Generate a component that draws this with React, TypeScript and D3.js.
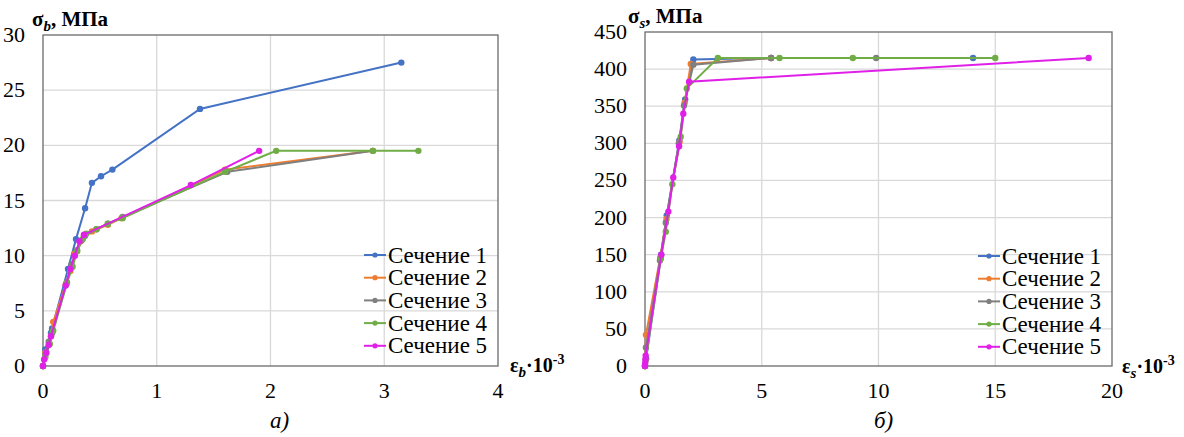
import React from "react";
import * as d3 from "d3";

type Pt = [number, number];

const SERIES_NAMES = ["Сечение 1", "Сечение 2", "Сечение 3", "Сечение 4", "Сечение 5"];
const COLORS = ["#4472C4", "#ED7D31", "#7F7F7F", "#70AD47", "#E020E8"];

// chart а) — concrete, eps_b (x1e-3) vs sigma_b (MPa)
const concrete1: Pt[] = [[0, 0], [0.02, 1.5], [0.07, 3.0], [0.08, 3.4], [0.22, 8.8], [0.29, 11.5], [0.37, 14.3], [0.43, 16.6], [0.51, 17.2], [0.61, 17.8], [1.38, 23.3], [3.15, 27.5]];
const concrete2: Pt[] = [[0, 0], [0.02, 1.2], [0.07, 2.7], [0.09, 4.0], [0.2, 7.4], [0.24, 8.6], [0.28, 10.2], [0.33, 11.3], [0.36, 11.8], [0.43, 12.2], [0.57, 12.8], [0.69, 13.4], [1.6, 17.8], [2.9, 19.5]];
const concrete3: Pt[] = [[0, 0], [0.02, 1.0], [0.05, 2.2], [0.08, 3.0], [0.21, 7.6], [0.25, 9.2], [0.3, 10.5], [0.34, 11.4], [0.37, 11.8], [0.47, 12.4], [0.57, 12.9], [0.7, 13.5], [1.62, 17.6], [2.9, 19.5]];
const concrete4: Pt[] = [[0, 0], [0.02, 0.8], [0.06, 2.0], [0.09, 3.2], [0.21, 7.5], [0.26, 9.0], [0.3, 10.4], [0.35, 11.5], [0.38, 12.0], [0.47, 12.4], [0.57, 12.9], [0.7, 13.4], [1.6, 17.6], [2.05, 19.5], [2.9, 19.5], [3.3, 19.5]];
const concrete5: Pt[] = [[0, 0], [0.01, 0.6], [0.03, 1.2], [0.05, 1.9], [0.07, 2.7], [0.2, 7.3], [0.24, 8.8], [0.28, 10.0], [0.32, 11.3], [0.36, 11.9], [1.3, 16.4], [1.9, 19.5]];

// chart б) — rebar, eps_s (x1e-3) vs sigma_s (MPa)
const steel1: Pt[] = [[0, 0], [0.05, 10], [0.69, 150], [0.93, 203], [1.47, 304], [1.72, 359], [2.07, 413], [5.4, 415], [14.05, 415]];
const steel2: Pt[] = [[0, 0], [0.04, 42], [0.65, 146], [0.92, 198], [1.48, 302], [1.7, 355], [1.96, 407], [5.4, 415]];
const steel3: Pt[] = [[0, 0], [0.04, 25], [0.64, 142], [0.89, 193], [1.45, 300], [1.67, 351], [2.07, 406], [5.4, 415], [9.9, 415]];
const steel4: Pt[] = [[0, 0], [0.03, 8], [0.68, 145], [0.89, 181], [1.17, 245], [1.53, 309], [1.79, 374], [3.12, 415], [5.76, 415], [8.9, 415], [15.0, 415]];
const steel5: Pt[] = [[0, 0], [0.01, 4], [0.02, 9], [0.03, 14], [0.7, 150], [1.0, 208], [1.21, 254], [1.46, 296], [1.64, 340], [1.89, 383], [19.0, 415]];

const X_TICKS_A = [0, 1, 2, 3, 4];
const Y_TICKS_A = [0, 5, 10, 15, 20, 25, 30];
const X_TICKS_B = [0, 5, 10, 15, 20];
const Y_TICKS_B = [0, 50, 100, 150, 200, 250, 300, 350, 400, 450];

const SERIF = "'Liberation Serif', 'Times New Roman', serif";

type ChartProps = {
  left: number; right: number; top: number; bottom: number;
  xTicks: number[]; yTicks: number[];
  series: Pt[][];
  legendX: number; legendY: number;
  sub: string;
  yTitleX: number; yTitleY: number;
  xTitleX: number; xTitleY: number;
  caption: string; captionX: number;
};

function Chart(p: ChartProps) {
  const x = d3.scaleLinear().domain([0, p.xTicks[p.xTicks.length - 1]]).range([p.left, p.right]);
  const y = d3.scaleLinear().domain([0, p.yTicks[p.yTicks.length - 1]]).range([p.bottom, p.top]);
  const line = d3.line<Pt>().x(d => x(d[0])).y(d => y(d[1]));

  return (
    <g fontFamily={SERIF}>
      {p.xTicks.slice(1, -1).map(t => (
        <line key={"gx" + t} x1={x(t)} x2={x(t)} y1={p.top} y2={p.bottom} stroke="#d9d9d9" strokeWidth={1.3} />
      ))}
      {p.yTicks.slice(1, -1).map(t => (
        <line key={"gy" + t} x1={p.left} x2={p.right} y1={y(t)} y2={y(t)} stroke="#d9d9d9" strokeWidth={1.3} />
      ))}
      <rect x={p.left} y={p.top} width={p.right - p.left} height={p.bottom - p.top} fill="none" stroke="#6b6b6b" strokeWidth={1.3} />

      {p.xTicks.map(t => (
        <text key={"tx" + t} x={x(t)} y={p.bottom + 32} textAnchor="middle" fontFamily={SERIF} fontSize={22} fill="#000">{String(t)}</text>
      ))}
      {p.yTicks.map(t => (
        <text key={"ty" + t} x={p.left - 18} y={y(t) + 7} textAnchor="end" fontFamily={SERIF} fontSize={22} fill="#000">{String(t)}</text>
      ))}

      {p.series.map((s, i) => (
        <g key={"s" + i}>
          <path d={line(s) || ""} fill="none" stroke={COLORS[i]} strokeWidth={2} />
          {s.map((d, j) => (
            <circle key={j} cx={x(d[0])} cy={y(d[1])} r={3.2} fill={COLORS[i]} />
          ))}
        </g>
      ))}

      {SERIES_NAMES.map((n, i) => (
        <g key={"l" + i} transform={`translate(${p.legendX},${p.legendY + i * 22.7})`}>
          <line x1={0} x2={22} y1={0} y2={0} stroke={COLORS[i]} strokeWidth={2} />
          <circle cx={11} cy={0} r={2.6} fill={COLORS[i]} />
          <text x={24} y={7.5} fontFamily={SERIF} fontSize={23} fill="#000">{n}</text>
        </g>
      ))}

      <text x={p.yTitleX} y={p.yTitleY} fontFamily={SERIF} fontSize={21} fontWeight="bold" fill="#000">
        σ<tspan fontStyle="italic" fontSize={15} dy={5}>{p.sub}</tspan><tspan dy={-5}>, МПа</tspan>
      </text>
      <text x={p.xTitleX} y={p.xTitleY} fontFamily={SERIF} fontSize={20} fontWeight="bold" fill="#000">
        ε<tspan fontStyle="italic" fontSize={15} dy={5}>{p.sub}</tspan><tspan dy={-5}>·10</tspan><tspan fontSize={14} dy={-8}>-3</tspan>
      </text>
      <text x={p.captionX} y={428} fontFamily={SERIF} fontSize={23} fontStyle="italic" fill="#000">{p.caption}</text>
    </g>
  );
}

export default function App() {
  return (
    <svg width={1184} height={437} fontFamily={SERIF} style={{ position: "absolute", left: 0, top: 0, background: "#fff" }}>
      <rect width={1184} height={437} fill="#fff" />
      <Chart
        left={43} right={498} top={35} bottom={366}
        xTicks={X_TICKS_A} yTicks={Y_TICKS_A}
        series={[concrete1, concrete2, concrete3, concrete4, concrete5]}
        legendX={364} legendY={255}
        sub="b" yTitleX={32} yTitleY={26} xTitleX={510} xTitleY={372}
        caption="а)" captionX={270}
      />
      <Chart
        left={645} right={1112} top={32} bottom={366}
        xTicks={X_TICKS_B} yTicks={Y_TICKS_B}
        series={[steel1, steel2, steel3, steel4, steel5]}
        legendX={978} legendY={256}
        sub="s" yTitleX={628} yTitleY={23} xTitleX={1122} xTitleY={373}
        caption="б)" captionX={874}
      />
    </svg>
  );
}
